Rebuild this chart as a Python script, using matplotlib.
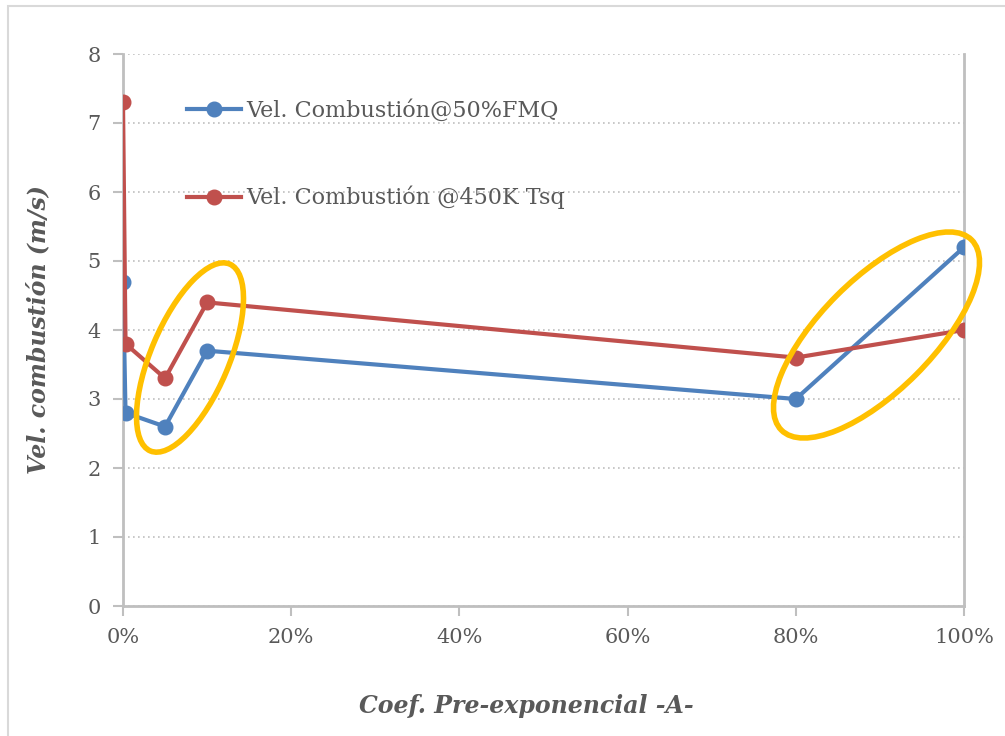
import matplotlib
matplotlib.use("Agg")
import matplotlib.pyplot as plt
from matplotlib.patches import Ellipse, Rectangle
from matplotlib.transforms import Affine2D
from matplotlib.ticker import FuncFormatter

# Data
x_blue = [0.0, 0.003, 0.05, 0.10, 0.80, 1.00]
y_blue = [4.7, 2.8, 2.6, 3.7, 3.0, 5.2]
x_red = [0.0, 0.003, 0.05, 0.10, 0.80, 1.00]
y_red = [7.3, 3.8, 3.3, 4.4, 3.6, 4.0]
label_blue = "Vel. Combustión@50%FMQ"
label_red = "Vel. Combustión @450K Tsq"
xlabel = "Coef. Pre-exponencial -A-"
ylabel = "Vel. combustión (m/s)"
xticks = [0, 0.2, 0.4, 0.6, 0.8, 1.0]
yticks = [0, 1, 2, 3, 4, 5, 6, 7, 8]

W, H = 1005, 736
fig = plt.figure(figsize=(W / 100, H / 100), dpi=100)
font = "DejaVu Serif"
txtc = "#595959"
axc = "#BFBFBF"

# outer chart border
pix = Affine2D().scale(1 / W, 1 / H) + fig.transFigure
fig.patches.append(Rectangle((8, -10), 1100, H - 6 + 10, transform=pix,
                             fill=False, edgecolor="#D9D9D9", linewidth=1.5))

ax = fig.add_axes([123 / W, 130 / H, (964 - 123) / W, (606 - 54) / H])
ax.set_xlim(0, 1)
ax.set_ylim(0, 8)

ax.plot(x_blue, y_blue, color="#4F81BD", lw=3, marker="o", ms=10.5, label=label_blue, zorder=3)
ax.plot(x_red, y_red, color="#C0504D", lw=3, marker="o", ms=10.5, label=label_red, zorder=3)

ax.set_xticks(xticks)
ax.set_yticks(yticks)
ax.xaxis.set_major_formatter(FuncFormatter(lambda v, p: f"{v*100:.0f}%"))
ax.tick_params(axis="both", colors=axc, labelcolor=txtc, length=7, width=1.5,
               labelsize=15, direction="out")
for lab in ax.get_xticklabels() + ax.get_yticklabels():
    lab.set_fontfamily(font)
ax.tick_params(axis="x", pad=9)
ax.tick_params(axis="y", pad=9)

for side in ["left", "bottom", "right"]:
    ax.spines[side].set_color(axc)
    ax.spines[side].set_linewidth(2)
ax.spines["top"].set_visible(False)
ax.yaxis.grid(True, linestyle=(0, (1, 2)), color="#BFBFBF", linewidth=1.2)
ax.set_axisbelow(True)

ax.set_xlabel(xlabel, fontfamily=font, fontsize=17, fontweight="bold", fontstyle="italic",
              color=txtc)
ax.set_ylabel(ylabel, fontfamily=font, fontsize=17, fontweight="bold", fontstyle="italic",
              color=txtc)
ax.xaxis.set_label_coords(0.48, -0.16)
ax.yaxis.set_label_coords(-0.086, 0.5)

leg = ax.legend(loc="upper left", bbox_to_anchor=(0.065, 0.935), frameon=False,
                prop={"family": font, "size": 16}, labelcolor=txtc,
                handlelength=2.45, labelspacing=2.9, handletextpad=0.25, borderaxespad=0)

# annotation ellipses (in image pixel coordinates, y from bottom)
for cx, cy, w, h, ang in [(190, 357.5, 203, 78, 67), (876.5, 335, 269, 112, 45)]:
    e = Ellipse((cx, H - cy), w, h, angle=ang, transform=pix, fill=False,
                edgecolor="#FFC000", linewidth=4, zorder=5)
    fig.patches.append(e)

fig.savefig("out.png", dpi=100)
